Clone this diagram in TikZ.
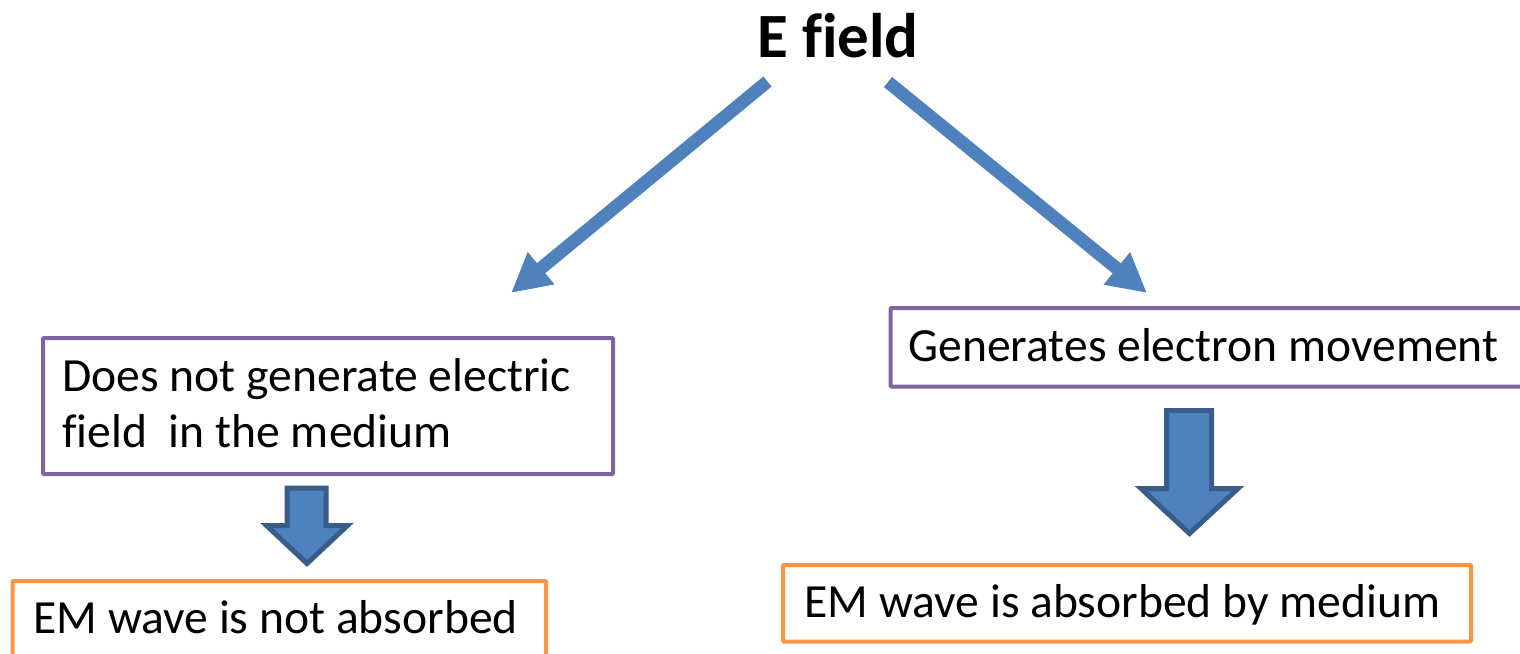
\documentclass[tikz,border=0pt]{standalone}
\usepackage{fontspec}
\setmainfont{Carlito}[Ligatures=NoCommon]
\usetikzlibrary{arrows.meta}
\definecolor{abl}{HTML}{4F81BD}
\definecolor{abd}{HTML}{385D8A}
\definecolor{pur}{HTML}{8064A2}
\definecolor{org}{HTML}{F79646}
\begin{document}
\begin{tikzpicture}[x=0.5pt,y=-0.5pt,
  lbl/.style={inner sep=0pt, anchor=base west, font=\fontsize{23.8pt}{28pt}\selectfont},
  ttl/.style={inner sep=0pt, anchor=base west, font=\bfseries\fontsize{31.5pt}{36pt}\selectfont},
  pbox/.style={draw=pur, line width=2pt, inner sep=0pt, anchor=north west, rounded corners=0.5pt},
  obox/.style={draw=org, line width=2pt, inner sep=0pt, anchor=north west, rounded corners=0.5pt},
  conn/.style={draw=abl, line width=6.5pt, -{Triangle[length=19.5pt,width=19.5pt]}},
  barrow/.style={fill=abl, draw=abd, line width=2.5pt, line join=miter}]
\useasboundingbox (0,0) rectangle (1520,653);
\clip (0,0) rectangle (1520,653);
% title
\node[ttl] (title) at (757,57) {E field};
% boxes
\node[pbox, minimum width=285pt, minimum height=68pt] (b1) at (41,336) {};
\node[pbox, minimum width=325.75pt, minimum height=39.25pt] (b2) at (888.5,306) {};
\node[obox, minimum width=266.75pt, minimum height=50.5pt] (b3) at (10.5,579) {};
\node[obox, minimum width=344pt, minimum height=38.25pt] (b4) at (781,563) {};
% texts
\node[lbl] (t1) at (62,391) {\begin{tabular}[t]{@{}l@{}}Does not generate electric\\ field~ in the medium\end{tabular}};
\node[lbl] (t2) at (908,361) {Generates electron movement};
\node[lbl] (t3) at (33,633) {EM wave is not absorbed};
\node[lbl] (t4) at (804,617) {EM wave is absorbed by medium};
% connectors from title
\coordinate (s1) at (767.5,81.5);
\coordinate (e1) at (511,293);
\coordinate (s2) at (888,82);
\coordinate (e2) at (1147,293);
\draw[conn] (s1) -- (e1);
\draw[conn] (s2) -- (e2);
% block arrows
\draw[barrow] (287,488) -- (326,488) -- (326,525.5) -- (347.5,525.5) -- (307,563.5) -- (266.5,525.5) -- (287,525.5) -- cycle;
\draw[barrow] (1166.5,410.5) -- (1211.5,410.5) -- (1211.5,488.5) -- (1238,488.5) -- (1189.5,533.5) -- (1141,488.5) -- (1166.5,488.5) -- cycle;
\end{tikzpicture}
\end{document}
